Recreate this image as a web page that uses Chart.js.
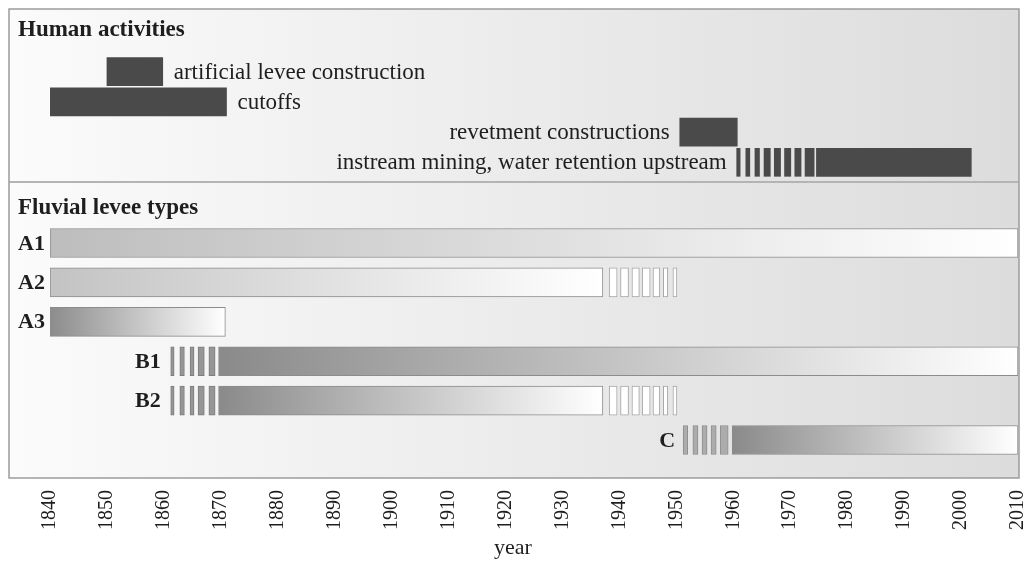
<!DOCTYPE html>
<html>
<head>
<meta charset="utf-8">
<script src="https://cdn.jsdelivr.net/npm/chart.js@4.4.1/dist/chart.umd.min.js"></script>
<style>
    html, body { margin: 0; padding: 0; background: #fff; }
    #wrap { width: 1032px; height: 563px; }
</style>
</head>
<body>
<div id="wrap"><canvas id="chart"></canvas></div>
<script>
// === Data (years) ===
const yearMin = 1840;
const yearMax = 2010;
const yearStep = 10;

const activityNames = [
    'artificial levee construction',
    'cutoffs',
    'revetment constructions',
    'instream mining, water retention upstream'
];
const activityPeriods = [[1850, 1859.8], [1839.4, 1871], [1950.6, 1960.7], [1974.6, 2001.8]];
// hatched start of instream mining (row 4)
const instreamStripes = [
    [1960.6, 1961.2], [1962.2, 1962.9], [1963.8, 1964.6], [1965.4, 1966.5],
    [1967.2, 1968.3], [1969.0, 1970.1], [1970.8, 1971.9], [1972.6, 1974.2]
];

const leveeTypes = ['A1', 'A2', 'A3', 'B1', 'B2', 'C'];
const leveePeriods = [[1840, 2010], [1840, 1937.1], [1840, 1870.8], [1869.6, 2010], [1869.6, 1937.1], [1959.8, 2010]];
// uncertain onset of B1 and B2
const bOnsetStripes = [[1861.2, 1861.8], [1862.8, 1863.6], [1864.6, 1865.3], [1866.0, 1867.1], [1867.9, 1869.0]];
// uncertain onset of C
const cOnsetStripes = [[1951.2, 1952.0], [1952.9, 1953.8], [1954.5, 1955.4], [1956.1, 1957.0], [1957.7, 1959.1]];
// uncertain end of A2 and B2
const fadeStripes = [
    [1938.2, 1939.6], [1940.2, 1941.6], [1942.2, 1943.5], [1944.0, 1945.4],
    [1945.9, 1947.1], [1947.7, 1948.5], [1949.4, 1950.1]
];

// === Styles ===
const serif = '"Liberation Serif", "Times New Roman", serif';
const textColor = '#1e1e1e';
const leveeShades = ['#bdbdbd', '#c3c3c3', '#8c8c8c', '#8a8a8a', '#8a8a8a', '#8a8a8a'];
const leveeLabelGap = [5, 5, 5, 10, 10, 8];

// rows are numbered from 1 inside each panel
const activityData = activityPeriods.map((p, i) => ({ x: p, y: i + 1 }))
    .concat(instreamStripes.map(p => ({ x: p, y: 4 })));
const leveeData = leveePeriods.map((p, i) => ({ x: p, y: i + 1 }));
const onsetData = bOnsetStripes.map(p => ({ x: p, y: 4 }))
    .concat(bOnsetStripes.map(p => ({ x: p, y: 5 })))
    .concat(cOnsetStripes.map(p => ({ x: p, y: 6 })));
const fadeData = fadeStripes.map(p => ({ x: p, y: 2 }))
    .concat(fadeStripes.map(p => ({ x: p, y: 5 })));

function leveeFill(context) {
    const chart = context.chart;
    if (!chart.chartArea) return leveeShades[context.dataIndex];
    const p = leveePeriods[context.dataIndex];
    const x = chart.scales.x;
    const g = chart.ctx.createLinearGradient(x.getPixelForValue(p[0]), 0, x.getPixelForValue(p[1]), 0);
    g.addColorStop(0, leveeShades[context.dataIndex]);
    g.addColorStop(1, '#ffffff');
    return g;
}

function rowStart(data, row) {
    return Math.min(...data.filter(d => d.y === row).map(d => d.x[0]));
}

const panelPlugin = {
    id: 'panels',
    beforeDatasetsDraw(chart) {
        const { ctx, chartArea, scales } = chart;
        const left = chartArea.left - 41;
        const right = chartArea.right + 1;
        ctx.save();
        [scales.yH, scales.yL].forEach(s => {
            const g = ctx.createLinearGradient(left, 0, right, 0);
            g.addColorStop(0, '#fbfbfb');
            g.addColorStop(1, '#dcdcdc');
            ctx.fillStyle = g;
            ctx.fillRect(left, s.top, right - left, s.bottom - s.top);
        });
        ctx.strokeStyle = '#b4b4b4';
        ctx.lineWidth = 2;
        ctx.beginPath();
        ctx.moveTo(left, scales.yL.top);
        ctx.lineTo(right, scales.yL.top);
        ctx.stroke();
        ctx.strokeStyle = '#9c9c9c';
        ctx.lineWidth = 1.5;
        ctx.strokeRect(left, chartArea.top, right - left, chartArea.bottom - chartArea.top);
        ctx.restore();
    },
    afterDatasetsDraw(chart) {
        const { ctx, chartArea, scales } = chart;
        const x = scales.x, yH = scales.yH, yL = scales.yL;
        ctx.save();
        ctx.fillStyle = textColor;
        ctx.textBaseline = 'middle';

        // panel headings
        ctx.font = 'bold 23px ' + serif;
        ctx.textAlign = 'left';
        ctx.fillText('Human activities', chartArea.left - 32, yH.top + 21);
        ctx.fillText('Fluvial levee types', chartArea.left - 32, yL.top + 26);

        // activity labels
        ctx.font = '23px ' + serif;
        activityNames.forEach((name, i) => {
            const row = i + 1;
            const py = yH.getPixelForValue(row) + 1;
            if (i < 2) {
                ctx.textAlign = 'left';
                ctx.fillText(name, x.getPixelForValue(activityPeriods[i][1]) + 11, py);
            } else {
                ctx.textAlign = 'right';
                ctx.fillText(name, x.getPixelForValue(rowStart(activityData, row)) - 10, py);
            }
        });

        // levee type labels
        ctx.font = 'bold 22px ' + serif;
        ctx.textAlign = 'right';
        const allLevee = leveeData.concat(onsetData);
        leveeTypes.forEach((name, i) => {
            const row = i + 1;
            const px = x.getPixelForValue(rowStart(allLevee, row)) - leveeLabelGap[i];
            ctx.fillText(name, px, yL.getPixelForValue(row) + 1);
        });

        // axis title
        ctx.font = '22px ' + serif;
        ctx.textAlign = 'center';
        ctx.fillText('year', (chartArea.left + chartArea.right) / 2 - 21, chartArea.bottom + 70);
        ctx.restore();
    }
};

const ctx = document.getElementById('chart').getContext('2d');
const chart = new Chart(ctx, {
    type: 'bar',
    data: {
        datasets: [
            {
                label: 'Human activities',
                data: activityData,
                yAxisID: 'yH',
                backgroundColor: '#4a4a4a',
                borderWidth: 0,
                barThickness: 28,
                grouped: false
            },
            {
                label: 'Fluvial levee types',
                data: leveeData,
                yAxisID: 'yL',
                backgroundColor: leveeFill,
                borderColor: '#8c8c8c',
                borderWidth: 1,
                borderSkipped: false,
                barThickness: 29,
                grouped: false
            },
            {
                label: 'onset',
                data: onsetData,
                yAxisID: 'yL',
                backgroundColor: (c) => (c.raw && c.raw.y === 6 ? '#acacac' : '#969696'),
                borderColor: (c) => (c.raw && c.raw.y === 6 ? '#8e8e8e' : '#7c7c7c'),
                borderWidth: 1,
                borderSkipped: false,
                barThickness: 29,
                grouped: false
            },
            {
                label: 'fade',
                data: fadeData,
                yAxisID: 'yL',
                backgroundColor: '#ffffff',
                borderColor: '#a4a4a4',
                borderWidth: 1,
                borderSkipped: false,
                barThickness: 29,
                grouped: false
            }
        ]
    },
    options: {
        indexAxis: 'y',
        responsive: true,
        maintainAspectRatio: false,
        animation: false,
        layout: {
            padding: { left: 50, right: 14, top: 9, bottom: 21 }
        },
        plugins: {
            legend: { display: false },
            tooltip: { enabled: false }
        },
        scales: {
            x: {
                type: 'linear',
                min: yearMin,
                max: yearMax,
                offset: false,
                grid: { display: false, drawTicks: false },
                border: { display: false },
                afterFit: (scale) => {
                    scale.paddingLeft = 0;
                    scale.paddingRight = 0;
                },
                ticks: {
                    stepSize: yearStep,
                    minRotation: 90,
                    maxRotation: 90,
                    padding: 12,
                    color: textColor,
                    font: { family: serif, size: 20 },
                    callback: (value) => String(value)
                }
            },
            yL: {
                type: 'linear',
                reverse: true,
                min: -0.548,
                max: 6.964,
                offset: false,
                display: false,
                position: 'left',
                stack: 'rows',
                stackWeight: 296
            },
            yH: {
                type: 'linear',
                reverse: true,
                min: -1.076,
                max: 4.652,
                offset: false,
                display: false,
                position: 'left',
                stack: 'rows',
                stackWeight: 173
            }
        }
    },
    plugins: [panelPlugin]
});
</script>
</body>
</html>
